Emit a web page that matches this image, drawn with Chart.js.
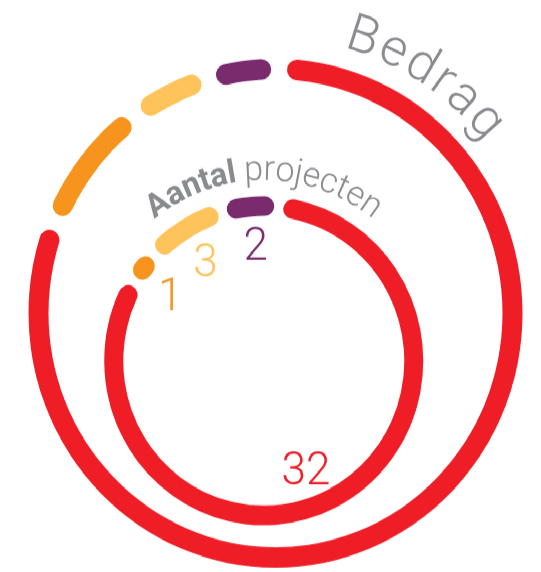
<!DOCTYPE html>
<html><head><meta charset="utf-8">
<script src="https://cdn.jsdelivr.net/npm/chart.js@4"></script>
<style>
html,body{margin:0;padding:0;background:#fff;overflow:hidden;width:541px;height:572px}
#wrap{position:absolute;left:0;top:0;width:541px;height:555px;transform:scaleY(1.0306);transform-origin:0 0}
canvas{position:absolute;left:0;top:0}
</style></head><body>
<div id="wrap"><canvas id="outer" width="541" height="555"></canvas><canvas id="inner" width="541" height="555"></canvas></div>
<script>
// ---- data ----
const categories = ['Categorie 1', 'Categorie 2', 'Categorie 3', 'Categorie 4'];
const aantalProjecten = [32, 1, 3, 2];          // inner ring (counts)
const bedrag = [83.3, 8.2, 4.6, 3.9];           // outer ring (share of amount, %)
const valueLabels = ['32', '1', '3', '2'];
const ringTitles = { outer: 'Bedrag', innerBold: 'Aantal', innerRegular: 'projecten' };

// ---- styles ----
const colors = ['#EE1D26', '#F7941D', '#FEC35A', '#7A2B6E'];
const gray = '#898b8e';
const GAP = 'rgba(0,0,0,0)';
const labelNudgeDeg = [5, -2.5, 0.5, 1];

function withGaps(values, gapDeg) {
  const total = values.reduce((a, b) => a + b, 0);
  const g = total * gapDeg / (360 - values.length * gapDeg);
  const out = [];
  values.forEach(v => { out.push(v, g); });
  return out;
}
function colorsWithGaps() {
  const out = [];
  colors.forEach(c => { out.push(c, GAP); });
  return out;
}
function labelsWithGaps() {
  const out = [];
  categories.forEach(c => { out.push(c, ''); });
  return out;
}

function drawCurved(ctx, cx, cy, r, a0, a1, parts, color) {
  const chars = []; let total = 0;
  parts.forEach(p => {
    ctx.font = p.font;
    for (const ch of p.text) {
      const w = ctx.measureText(ch).width;
      chars.push({ ch, w, font: p.font });
      total += w;
    }
  });
  const arcLen = (a1 - a0) * Math.PI / 180 * r;
  const sp = (arcLen - total) / (chars.length - 1);
  let pos = 0;
  ctx.save();
  ctx.fillStyle = color;
  ctx.textAlign = 'center';
  ctx.textBaseline = 'alphabetic';
  chars.forEach(c => {
    const th = a0 * Math.PI / 180 + (pos + c.w / 2) / r;
    ctx.save();
    ctx.translate(cx + r * Math.sin(th), cy - r * Math.cos(th));
    ctx.rotate(th);
    ctx.font = c.font;
    ctx.fillText(c.ch, 0, 0);
    ctx.restore();
    pos += c.w + sp;
  });
  ctx.restore();
}

function ringOptions(rot, cutoutPx, pad) {
  return {
    responsive: false,
    animation: false,
    events: [],
    rotation: rot,
    cutout: cutoutPx,
    layout: { padding: pad },
    plugins: { legend: { display: false }, tooltip: { enabled: false } }
  };
}

const outerTitlePlugin = {
  id: 'outerTitle',
  afterDraw(chart) {
    const arc = chart.getDatasetMeta(0).data[0];
    const ctx = chart.ctx;
    const r = arc.outerRadius + 20;
    drawCurved(ctx, arc.x, arc.y, r, 14.8, 51.5,
      [{ text: ringTitles.outer, font: '300 51px Roboto, "Liberation Sans", sans-serif' }], gray);
  }
};

const innerLabelPlugin = {
  id: 'innerLabels',
  afterDraw(chart) {
    const meta = chart.getDatasetMeta(0);
    const ctx = chart.ctx;
    const a0 = meta.data[0];
    // curved title
    drawCurved(ctx, a0.x, a0.y, a0.outerRadius + 16, -38.5, 38.5,
      [{ text: ringTitles.innerBold, font: 'bold 32px Roboto, "Liberation Sans", sans-serif' },
       { text: ' ' + ringTitles.innerRegular, font: '300 34px Roboto, "Liberation Sans", sans-serif' }], gray);
    // value labels
    ctx.save();
    ctx.font = '300 44px Roboto, "Liberation Sans", sans-serif';
    ctx.textAlign = 'center';
    ctx.textBaseline = 'alphabetic';
    valueLabels.forEach((t, i) => {
      const el = meta.data[i * 2];
      const mid = (el.startAngle + el.endAngle) / 2 + labelNudgeDeg[i] * Math.PI / 180;
      const rr = el.innerRadius - 27;
      const x = el.x + rr * Math.cos(mid);
      const y = el.y + rr * Math.sin(mid);
      ctx.fillStyle = colors[i];
      ctx.fillText(t, x, y + 15);
    });
    ctx.restore();
  }
};

// outer ring: centre (275.5, 304), centreline radius 237, thickness 20
new Chart(document.getElementById('outer'), {
  type: 'doughnut',
  data: {
    labels: labelsWithGaps(),
    datasets: [{
      data: withGaps(bedrag, 3.85),
      backgroundColor: colorsWithGaps(),
      borderWidth: 0, borderRadius: 10, hoverOffset: 0, spacing: 0
    }]
  },
  options: ringOptions(2.8, 227, { left: 28.5, top: 57, right: 18.5, bottom: 4 }),
  plugins: [outerTitlePlugin]
});

// inner ring: centre (263.75, 350.1), centreline radius 150, thickness 19
new Chart(document.getElementById('inner'), {
  type: 'doughnut',
  data: {
    labels: labelsWithGaps(),
    datasets: [{
      data: withGaps(aantalProjecten, 3.5),
      backgroundColor: colorsWithGaps(),
      borderWidth: 0, borderRadius: 9.5, hoverOffset: 0, spacing: 0
    }]
  },
  options: ringOptions(7.5, 140.5, { left: 104.25, top: 190.6, right: 117.75, bottom: 45.4 }),
  plugins: [innerLabelPlugin]
});
</script>
</body></html>
